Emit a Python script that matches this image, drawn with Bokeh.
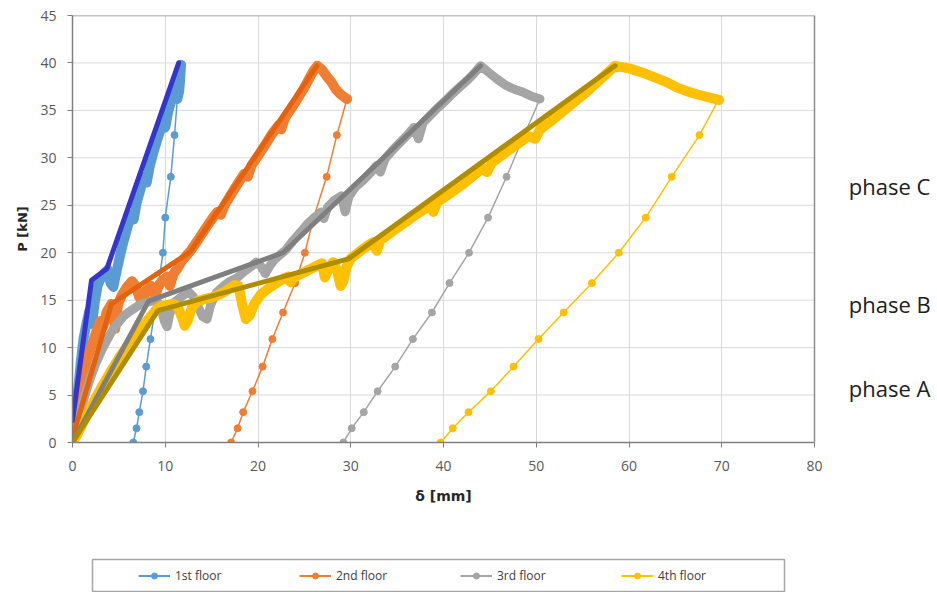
from bokeh.plotting import figure
from bokeh.models import Range1d, SingleIntervalTicker, Legend, LegendItem
from bokeh.core.properties import value
from bokeh.layouts import column
from bokeh.embed import file_html
from bokeh.resources import INLINE

# ---- loading branches (delta [mm], P [kN]) incl. post-peak softening ----
f1_load_x = [0.0, 0.3, 0.6, 0.9, 1.2, 1.5, 1.8, 2.1, 2.4, 2.7, 3.0, 3.4, 3.8, 4.1, 4.4, 4.7, 5.1, 5.5,
             5.9, 6.3, 6.6, 6.9, 7.3, 7.7, 8.0, 8.3, 8.7, 9.1, 9.5, 9.8, 10.0, 10.3, 10.7, 11.1, 11.4,
             11.6, 11.7, 11.6, 11.5, 11.3]
f1_load_y = [0.0, 2.5, 5.5, 8.5, 11.0, 12.5, 13.8, 12.5, 14.8, 16.5, 17.2, 17.8, 18.2, 16.8, 16.4, 17.8,
             19.6, 21.2, 22.6, 24.0, 23.5, 25.2, 26.6, 28.0, 27.4, 29.0, 30.5, 31.8, 33.0, 33.6, 33.2,
             34.8, 36.2, 37.6, 38.6, 39.4, 39.8, 38.2, 37.0, 36.2]

f2_load_x = [0.0, 0.5, 1.0, 1.5, 2.0, 2.5, 3.0, 3.3, 3.7, 4.2, 4.6, 4.9, 5.3, 5.8, 6.4, 6.8, 7.2, 7.5,
             7.9, 8.5, 8.9, 9.2, 9.6, 10.2, 10.5, 10.9, 11.3, 11.7, 12.2, 12.8, 13.5, 14.3, 15.0, 15.6,
             16.0, 16.4, 17.2, 17.9, 18.5, 18.9, 19.3, 20.0, 20.8, 21.5, 22.2, 22.5, 22.9, 23.6, 24.3,
             25.0, 25.6, 26.0, 26.4, 26.9, 27.4, 27.9, 28.4, 28.9, 29.3, 29.6]
f2_load_y = [0.0, 3.0, 6.0, 8.5, 10.0, 11.5, 12.8, 12.2, 13.8, 14.6, 12.0, 14.5, 15.5, 16.3, 17.0, 16.5,
             15.3, 14.8, 16.0, 16.5, 15.3, 16.3, 17.0, 17.5, 16.5, 17.8, 18.3, 19.0, 19.6, 20.3, 21.3,
             22.5, 23.5, 24.3, 24.0, 25.0, 26.3, 27.4, 28.3, 28.0, 29.2, 30.2, 31.4, 32.5, 33.4, 33.0,
             34.2, 35.2, 36.3, 37.4, 38.5, 39.2, 39.7, 39.3, 38.6, 38.0, 37.2, 36.7, 36.4, 36.2]

f3_load_x = [0.0, 0.5, 1.0, 1.5, 2.0, 2.5, 3.0, 3.5, 4.0, 4.5, 5.0, 5.5, 6.0, 6.6, 7.2, 7.8, 8.5, 9.0,
             9.5, 9.9, 10.2, 10.5, 11.0, 11.8, 12.5, 13.0, 13.6, 14.0, 14.5, 14.9, 15.5, 16.3, 17.0,
             17.8, 18.5, 19.2, 19.8, 20.3, 20.8, 21.2, 21.8, 22.4, 23.0, 23.8, 24.6, 25.4, 26.2, 26.8,
             27.1, 27.5, 28.2, 29.0, 29.4, 29.8, 30.5, 31.3, 32.1, 32.8, 33.2, 33.7, 34.5, 35.3, 36.1,
             36.8, 37.3, 37.8, 38.6, 39.4, 40.2, 41.0, 41.8, 42.6, 43.3, 44.0, 45.0, 45.9, 46.8, 47.7,
             48.6, 49.5, 50.4]
f3_load_y = [0.0, 2.0, 3.8, 5.5, 7.0, 8.3, 9.4, 10.4, 11.3, 12.1, 12.7, 13.3, 13.7, 14.1, 14.5, 14.7,
             14.9, 15.0, 14.4, 12.8, 12.2, 13.6, 14.8, 15.4, 15.9, 15.4, 14.2, 13.3, 13.0, 14.5, 15.8,
             16.5, 17.0, 17.4, 18.0, 18.5, 19.0, 18.6, 17.8, 18.5, 19.3, 19.8, 20.3, 21.3, 22.2, 23.1,
             23.8, 24.3, 23.6, 24.8, 25.5, 26.0, 24.3, 25.9, 26.9, 27.6, 28.4, 29.2, 28.5, 29.9, 30.8,
             31.6, 32.4, 33.2, 32.0, 33.7, 34.5, 35.3, 36.0, 36.8, 37.5, 38.2, 38.9, 39.7, 38.9, 38.2,
             37.6, 37.2, 36.9, 36.5, 36.2]

f4_load_x = [0.0, 0.5, 1.0, 1.5, 2.0, 3.0, 4.0, 5.0, 6.0, 7.0, 8.0, 8.6, 9.1, 9.6, 10.2, 10.8, 11.3,
             11.8, 12.1, 12.4, 12.9, 13.5, 14.2, 15.0, 15.8, 16.6, 17.5, 17.9, 18.3, 18.7, 19.1, 19.6,
             20.3, 21.2, 22.0, 22.8, 23.3, 23.5, 23.9, 24.7, 25.5, 26.3, 26.9, 27.2, 27.6, 28.1, 28.5,
             28.9, 29.2, 29.5, 30.0, 30.8, 31.6, 32.4, 32.8, 33.2, 34.0, 35.0, 36.0, 37.0, 38.0, 38.6,
             38.9, 39.3, 40.2, 41.2, 42.2, 43.2, 44.2, 44.7, 45.2, 46.2, 47.2, 48.2, 49.2, 49.9, 50.4,
             51.5, 52.5, 53.5, 54.5, 55.5, 56.5, 57.5, 58.5, 60.1, 61.4, 62.7, 64.0, 65.2, 66.3, 67.3,
             68.5, 69.7]
f4_load_y = [0.0, 0.8, 1.8, 2.8, 3.8, 5.6, 7.3, 8.9, 10.3, 11.6, 12.8, 13.5, 14.1, 14.4, 14.5, 14.6,
             14.4, 13.2, 12.3, 12.8, 14.3, 14.9, 15.1, 15.3, 15.6, 16.0, 16.6, 16.5, 14.5, 13.0, 13.4,
             14.6, 15.6, 16.3, 16.8, 17.3, 17.5, 16.9, 17.4, 17.8, 18.2, 18.6, 18.9, 17.4, 18.3, 19.0,
             18.2, 16.5, 17.0, 18.4, 19.4, 20.0, 20.6, 21.1, 20.2, 21.3, 21.9, 22.6, 23.3, 24.0, 24.6,
             25.0, 24.3, 25.3, 25.9, 26.6, 27.3, 28.1, 28.9, 28.5, 29.5, 30.2, 30.9, 31.6, 32.3, 32.0,
             33.0, 33.8, 34.6, 35.4, 36.2, 37.0, 37.9, 38.8, 39.7, 39.4, 39.0, 38.5, 38.0, 37.4, 37.0,
             36.7, 36.4, 36.1]

# ---- unloading branches: common load steps, displacement per floor ----
unload_p = [36.2, 32.4, 28.0, 23.7, 20.0, 16.8, 13.7, 10.9, 8.0, 5.4, 3.2, 1.5, 0.0]
f1_unload_x = [11.3, 11.0, 10.6, 10.0, 9.75, 9.3, 8.85, 8.4, 7.95, 7.6, 7.2, 6.9, 6.55]
f2_unload_x = [29.6, 28.5, 27.4, 26.0, 25.05, 24.0, 22.7, 21.55, 20.5, 19.4, 18.4, 17.8, 17.1]
f3_unload_x = [50.4, 48.7, 46.8, 44.8, 42.75, 40.65, 38.75, 36.7, 34.8, 32.9, 31.4, 30.1, 29.2]
f4_unload_x = [69.7, 67.6, 64.6, 61.8, 58.9, 56.0, 52.95, 50.25, 47.55, 45.1, 42.7, 41.0, 39.7]

# ---- idealised multi-linear envelopes ----
f1_ideal_x = [0.0, 2.05, 3.7, 11.45]
f1_ideal_y = [2.3, 17.1, 18.3, 40.0]
f2_ideal_x = [0.0, 4.2, 12.7, 26.35]
f2_ideal_y = [0.5, 14.6, 20.1, 39.7]
f3_ideal_x = [0.0, 8.2, 22.7, 44.0]
f3_ideal_y = [0.0, 14.9, 20.0, 39.7]
f4_ideal_x = [0.0, 9.2, 29.75, 58.5]
f4_ideal_y = [0.0, 13.9, 19.35, 39.7]

floor_labels = ["1st floor", "2nd floor", "3rd floor", "4th floor"]
light_colors = ["#5B9BD5", "#EF7E33", "#A5A5A5", "#FFC000"]
dark_colors = ["#3535CC", "#E3620B", "#7F7F7F", "#B08C00"]
band_widths = [10, 10, 9, 10]

phase_text = ["phase C", "phase B", "phase A"]
phase_p = [27.05, 14.55, 5.7]
phase_x = 83.7          # captions sit to the right of the axes box

# axis extents and ticks
X_MAX, Y_MAX = 80, 45
y_ticks = list(range(0, Y_MAX + 1, 5))

loads = [(f1_load_x, f1_load_y), (f2_load_x, f2_load_y), (f3_load_x, f3_load_y), (f4_load_x, f4_load_y)]
unloads = [f1_unload_x, f2_unload_x, f3_unload_x, f4_unload_x]
ideals = [(f1_ideal_x, f1_ideal_y), (f2_ideal_x, f2_ideal_y), (f3_ideal_x, f3_ideal_y), (f4_ideal_x, f4_ideal_y)]

# the plotting area runs to the right edge so the phase captions fit inside it;
# the axes box itself ends at X_MAX (742 px wide for 80 mm)
PX_PER_MM = 742 / X_MAX
X_END = (937 - 72) / PX_PER_MM

p = figure(width=937, height=484, x_range=Range1d(0, X_END), y_range=Range1d(0, Y_MAX),
           output_backend="svg", toolbar_location=None,
           min_border_left=72, min_border_right=0, min_border_top=15, min_border_bottom=42)
p.background_fill_color = "white"
p.border_fill_color = "white"
p.outline_line_color = None

p.xaxis.ticker = SingleIntervalTicker(interval=10)
p.yaxis.ticker = SingleIntervalTicker(interval=5)
p.xaxis.bounds = (0, X_MAX)
for ax in (p.xaxis, p.yaxis):
    ax.axis_line_color = "#7F7F7F"
    ax.axis_line_width = 1.5
    ax.major_tick_line_color = "#7F7F7F"
    ax.major_tick_out = 5
    ax.major_tick_in = 0
    ax.minor_tick_line_color = None
    ax.major_label_text_font = "Open Sans"
    ax.major_label_text_font_size = "14px"
    ax.major_label_text_color = "#595959"
p.xaxis.major_label_standoff = 13
p.yaxis.major_label_standoff = 11
p.yaxis.axis_label = "P [kN]"
p.yaxis.axis_label_text_font = "DejaVu Sans"
p.yaxis.axis_label_text_font_style = "bold"
p.yaxis.axis_label_text_font_size = "13px"
p.yaxis.axis_label_text_color = "#262626"
p.yaxis.axis_label_standoff = 7

p.xgrid.bounds = (0, X_MAX)
p.xgrid.grid_line_color = "#DADADA"
p.ygrid.visible = False
# horizontal grid lines limited to the axes box
inner_y = [t for t in y_ticks if 0 < t < Y_MAX]
p.segment(x0=[0] * len(inner_y), x1=[X_MAX] * len(inner_y), y0=inner_y, y1=inner_y,
          line_color="#DADADA", line_width=1)
# top and right edges of the axes box
p.line(x=[0, X_MAX, X_MAX], y=[Y_MAX, Y_MAX, 0], line_color="#8C8C8C", line_width=1.5)

# per floor: measured loading band, then the unloading path with markers
for (lx, ly), ux, col, w in zip(loads, unloads, light_colors, band_widths):
    p.line(lx, ly, line_color=col, line_width=w, line_join="round", line_cap="round")
    p.line(ux, unload_p, line_color=col, line_width=1.5)
    p.scatter(ux, unload_p, marker="circle", size=7, fill_color=col, line_color=col)

# idealised envelopes
for (ix, iy), col in zip(ideals, dark_colors):
    p.line(ix, iy, line_color=col, line_width=5, line_join="round", line_cap="round")

# phase captions
p.text(x=[phase_x] * len(phase_text), y=phase_p, text=phase_text,
       text_font=value("Open Sans"), text_font_size=value("22px"),
       text_color="#202020", text_baseline="middle", text_align="left")

# lower strip: x-axis title and the series legend (pixel units, 0 at the axis origin)
STRIP_H = 108
lg = figure(width=937, height=STRIP_H, x_range=Range1d(0, 937 - 72), y_range=Range1d(0, STRIP_H),
            output_backend="svg", toolbar_location=None,
            x_axis_location=None, y_axis_location=None,
            min_border_left=72, min_border_right=0, min_border_top=0, min_border_bottom=0)
lg.xgrid.visible = False
lg.ygrid.visible = False
lg.outline_line_color = None
lg.border_fill_color = "white"
lg.background_fill_color = "white"

# x-axis title, centred under the axes box
lg.text(x=[742 / 2], y=[STRIP_H - 11], text=["δ [mm]"], text_font=value("DejaVu Sans"),
        text_font_style="bold", text_font_size=value("14px"), text_color="#262626",
        text_align="center", text_baseline="middle")

lg.quad(left=[20], right=[712], bottom=[1], top=[33], fill_color=None,
        line_color="#A6A6A6", line_width=1.5)

items = []
for lab, col in zip(floor_labels, light_colors):
    r1 = lg.line([-50, -40], [-50, -40], line_color=col, line_width=2)
    r2 = lg.scatter([-50], [-50], marker="circle", size=6, fill_color=col, line_color=col)
    items.append(LegendItem(label=lab, renderers=[r1, r2]))
legend = Legend(items=items, orientation="horizontal", location=(66, 8),
                border_line_alpha=0, background_fill_alpha=0, margin=0, padding=0,
                glyph_width=32, glyph_height=15, label_standoff=5, spacing=0, label_width=124,
                label_text_font="Open Sans", label_text_font_size="12px", label_text_color="#404040")
lg.add_layout(legend, "center")

layout = column(p, lg, spacing=0)

open("out.html", "w").write(file_html(layout, INLINE))
